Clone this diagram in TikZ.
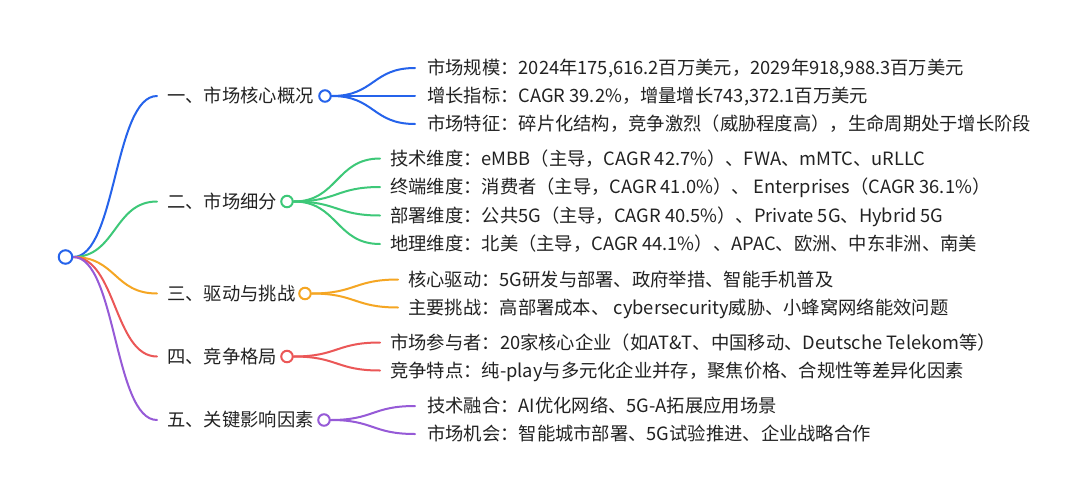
\documentclass[tikz,border=0pt]{standalone}
\usepackage{fontspec}
\setmainfont{Noto Sans CJK SC}
\definecolor{cb}{RGB}{37,99,235}
\definecolor{cg}{RGB}{61,200,120}
\definecolor{co}{RGB}{245,166,35}
\definecolor{cr}{RGB}{235,87,87}
\definecolor{cp}{RGB}{150,90,215}
\definecolor{tc}{RGB}{34,34,34}
\pgfdeclarelayer{bg}
\pgfsetlayers{bg,main}
\begin{document}
\begin{tikzpicture}[x=1pt,y=-1pt,
  link/.style={line width=2pt, line cap=round},
  dot/.style={circle, draw, line width=2pt, fill=white, inner sep=0pt, minimum size=11.5pt},
  rootdot/.style={dot, minimum size=13.5pt},
  lbl/.style={anchor=base west, inner sep=0pt, text=tc, font=\fontsize{18.3}{20}\selectfont}]
\useasboundingbox (0,0) rectangle (1080,501);
% root
\node[rootdot, draw=cb] (r) at (65.5,257) {};
% level 1
\coordinate (e1) at (157,96);
\coordinate (e2) at (157,201.5);
\coordinate (e3) at (157,293.5);
\coordinate (e4) at (157,356.5);
\coordinate (e5) at (157,420);
\node[lbl] (t1) at (167,102.5) {一、市场核心概况};
\node[lbl] (t2) at (167,208) {二、市场细分};
\node[lbl] (t3) at (167,300) {三、驱动与挑战};
\node[lbl] (t4) at (167,363) {四、竞争格局};
\node[lbl] (t5) at (167,426.5) {五、关键影响因素};
\node[dot, draw=cb] (k1) at (325,96) {};
\node[dot, draw=cg] (k2) at (287,201.5) {};
\node[dot, draw=co] (k3) at (305,293.5) {};
\node[dot, draw=cr] (k4) at (287,356.5) {};
\node[dot, draw=cp] (k5) at (324,420) {};
% level 2 end points
\coordinate (a1) at (415,68);
\coordinate (a2) at (415,96);
\coordinate (a3) at (415,124);
\coordinate (b1) at (380,158.5);
\coordinate (b2) at (380,187);
\coordinate (b3) at (380,215.5);
\coordinate (b4) at (380,244);
\coordinate (c1) at (398,279.5);
\coordinate (c2) at (398,307.5);
\coordinate (d1) at (380,342.5);
\coordinate (d2) at (380,370.5);
\coordinate (f1) at (415,406);
\coordinate (f2) at (415,434);
% level 2 labels
\node[lbl] (ta1) at (427,74.5) {市场规模：2024年175,616.2百万美元，2029年918,988.3百万美元};
\node[lbl] (ta2) at (427,102.5) {增长指标：CAGR 39.2\%，增量增长743,372.1百万美元};
\node[lbl] (ta3) at (427,130.5) {市场特征：碎片化结构，竞争激烈（威胁程度高），生命周期处于增长阶段};
\node[lbl] (tb1) at (390,165) {技术维度：eMBB（主导，CAGR 42.7\%）、FWA、mMTC、uRLLC};
\node[lbl] (tb2) at (390,193.5) {终端维度：消费者（主导，CAGR 41.0\%）、 Enterprises（CAGR 36.1\%）};
\node[lbl] (tb3) at (390,222) {部署维度：公共5G（主导，CAGR 40.5\%）、Private 5G、Hybrid 5G};
\node[lbl] (tb4) at (390,250.5) {地理维度：北美（主导，CAGR 44.1\%）、APAC、欧洲、中东非洲、南美};
\node[lbl] (tc1) at (408,286) {核心驱动：5G研发与部署、政府举措、智能手机普及};
\node[lbl] (tc2) at (408,314) {主要挑战：高部署成本、 cybersecurity威胁、小蜂窝网络能效问题};
\node[lbl] (td1) at (390,349) {市场参与者：20家核心企业（如AT\&T、中国移动、Deutsche Telekom等）};
\node[lbl] (td2) at (390,377) {竞争特点：纯-play与多元化企业并存，聚焦价格、合规性等差异化因素};
\node[lbl] (tf1) at (427,412.5) {技术融合：AI优化网络、5G-A拓展应用场景};
\node[lbl] (tf2) at (427,440.5) {市场机会：智能城市部署、5G试验推进、企业战略合作};
\begin{pgfonlayer}{bg}
\fill[white] (0,0) rectangle (1080,501);
\draw[link, cb] (r.east) .. controls +(43,0) and +(-43,0) .. (e1);
\draw[link, cg] (r.east) .. controls +(43,0) and +(-43,0) .. (e2);
\draw[link, co] (r.east) .. controls +(43,0) and +(-43,0) .. (e3);
\draw[link, cr] (r.east) .. controls +(43,0) and +(-43,0) .. (e4);
\draw[link, cp] (r.east) .. controls +(43,0) and +(-43,0) .. (e5);
\foreach \e in {a1,a2,a3}
  \draw[link, cb] (k1.east) .. controls +(43,0) and +(-43,0) .. (\e);
\foreach \e in {b1,b2,b3,b4}
  \draw[link, cg] (k2.east) .. controls +(44,0) and +(-44,0) .. (\e);
\foreach \e in {c1,c2}
  \draw[link, co] (k3.east) .. controls +(44,0) and +(-44,0) .. (\e);
\foreach \e in {d1,d2}
  \draw[link, cr] (k4.east) .. controls +(44,0) and +(-44,0) .. (\e);
\foreach \e in {f1,f2}
  \draw[link, cp] (k5.east) .. controls +(43,0) and +(-43,0) .. (\e);
\end{pgfonlayer}
\end{tikzpicture}
\end{document}
